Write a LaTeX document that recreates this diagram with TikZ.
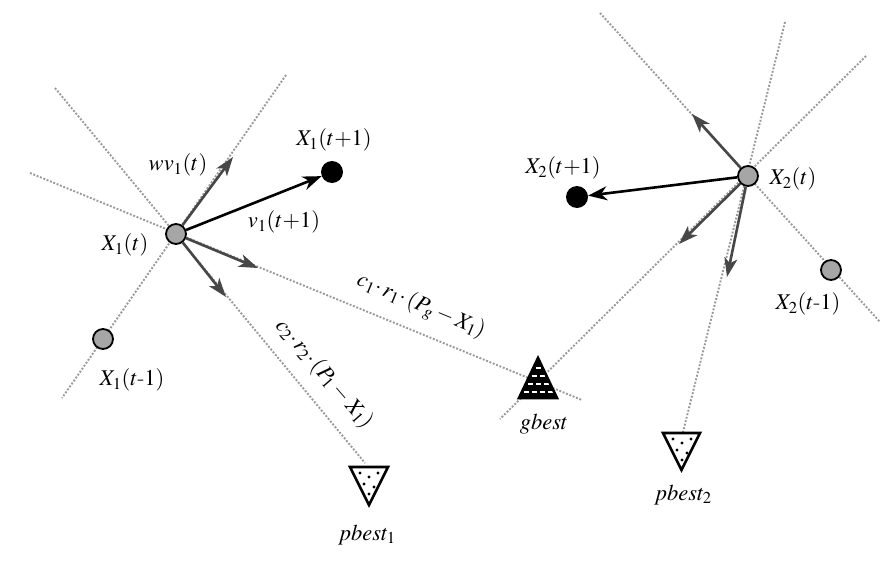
\documentclass[tikz,border=0pt]{standalone}
\usepackage{mathptmx}
\usetikzlibrary{arrows.meta}
\begin{document}
\begin{tikzpicture}[x=1pt,y=-1pt,
  lbl/.style={font=\fontsize{22.5}{26}\selectfont, inner sep=0pt},
  guide/.style={draw=gray!80, line width=1.9pt, dash pattern=on 1.9pt off 1.7pt},
  gv/.style={draw=black!72, line width=2.6pt, -{Stealth[length=19pt,width=13pt,inset=5pt]}},
  bv/.style={draw=black, line width=2.6pt, -{Stealth[length=19pt,width=14pt,inset=6pt]}},
  greydot/.style={circle, draw=black, line width=1.8pt, fill=gray!70, minimum size=20pt, inner sep=0pt},
  blackdot/.style={circle, fill=black, minimum size=22pt, inner sep=0pt},
  tri/.style={draw=black, line width=2.6pt, line join=miter},
]
\useasboundingbox (0,0) rectangle (883,570);
\fill[white] (0,0) rectangle (883,570);

% guide lines
\coordinate (l1a) at (55,88);   \coordinate (l1b) at (365,463);
\coordinate (l2a) at (30,173);  \coordinate (l2b) at (582,400);
\coordinate (l3a) at (286,75);  \coordinate (l3b) at (62,398);
\coordinate (l4a) at (866,56);  \coordinate (l4b) at (500,419);
\coordinate (l5a) at (600,13);  \coordinate (l5b) at (880,322);
\coordinate (l6a) at (785,22);  \coordinate (l6b) at (683,432);
\draw[guide] (l1a) -- (l1b);
\draw[guide] (l2a) -- (l2b);
\draw[guide] (l3a) -- (l3b);
\draw[guide] (l4a) -- (l4b);
\draw[guide] (l5a) -- (l5b);
\draw[guide] (l6a) -- (l6b);

% gbest
\fill[black] (538,358) -- (557,398) -- (519,398) -- cycle;
\begin{scope}
  \clip (538,358) -- (557,398) -- (519,398) -- cycle;
  \foreach \yy/\off in {368/0pt,376/4pt,384/0pt,392/4pt}
    \draw[white, line width=2.2pt, dash pattern=on 5pt off 3pt, dash phase=\off] (512,\yy) -- (562,\yy);
\end{scope}
\draw[tri] (538,358) -- (557,398) -- (519,398) -- cycle;

% pbest triangles
\draw[tri, fill=white] (350,467) -- (388,467) -- (369,505) -- cycle;
\foreach \p in {(360,473),(369,477),(378,473),(364,484),(374,487),(369,494)}
  \fill \p circle (1.7pt);
\draw[tri, fill=white] (663,433) -- (700,433) -- (681.5,470) -- cycle;
\foreach \p in {(673,439),(682,443),(691,439),(677,450),(687,453),(682,460)}
  \fill \p circle (1.7pt);

% particles
\node[greydot] (X1) at (176,234) {};
\node[blackdot] (X1n) at (332,172) {};
\node[greydot] (X1p) at (103,339) {};
\node[greydot] (X2) at (748,176) {};
\node[blackdot] (X2n) at (577,197) {};
\node[greydot] (X2p) at (831,270) {};

% arrow ends
\coordinate (awv) at (233,157);
\coordinate (ac1) at (258,268);
\coordinate (ac2) at (226,297);
\coordinate (aup) at (692,114);
\coordinate (ag)  at (679,244);
\coordinate (ap)  at (727,277);

\draw[gv] (X1) -- (awv);
\draw[gv] (X1) -- (ac1);
\draw[gv] (X1) -- (ac2);
\draw[bv] (X1) -- (X1n);
\draw[gv] (X2) -- (aup);
\draw[gv] (X2) -- (ag);
\draw[gv] (X2) -- (ap);
\draw[bv] (X2) -- (X2n);

% labels
\node[lbl] (lwv)  at (178,165) {$wv_1(t)$};
\node[lbl] (lv1)  at (284,222) {$v_1(t{+}1)$};
\node[lbl] (lX1n) at (334,140) {$X_1(t{+}1)$};
\node[lbl] (lX1)  at (125,245) {$X_1(t)$};
\node[lbl] (lX1p) at (132,380) {$X_1(t\mbox{-}1)$};
\node[lbl] (lX2n) at (563,168) {$X_2(t{+}1)$};
\node[lbl] (lX2)  at (793,179) {$X_2(t)$};
\node[lbl] (lX2p) at (808,304) {$X_2(t\mbox{-}1)$};
\node[lbl] (lg)   at (544,424) {$gbest$};
\node[lbl] (lp1)  at (367,535) {$pbest_1$};
\node[lbl] (lp2)  at (683,495) {$pbest_2$};
\node[lbl, rotate=-22.5] (lc1) at (421,306) {$c_1{\cdot}\,r_1{\cdot}\,(P_g - X_1)$};
\node[lbl, rotate=-49] (lc2) at (324,374) {$c_2{\cdot}\,r_2{\cdot}\,(P_1 - X_1)$};
\end{tikzpicture}
\end{document}
